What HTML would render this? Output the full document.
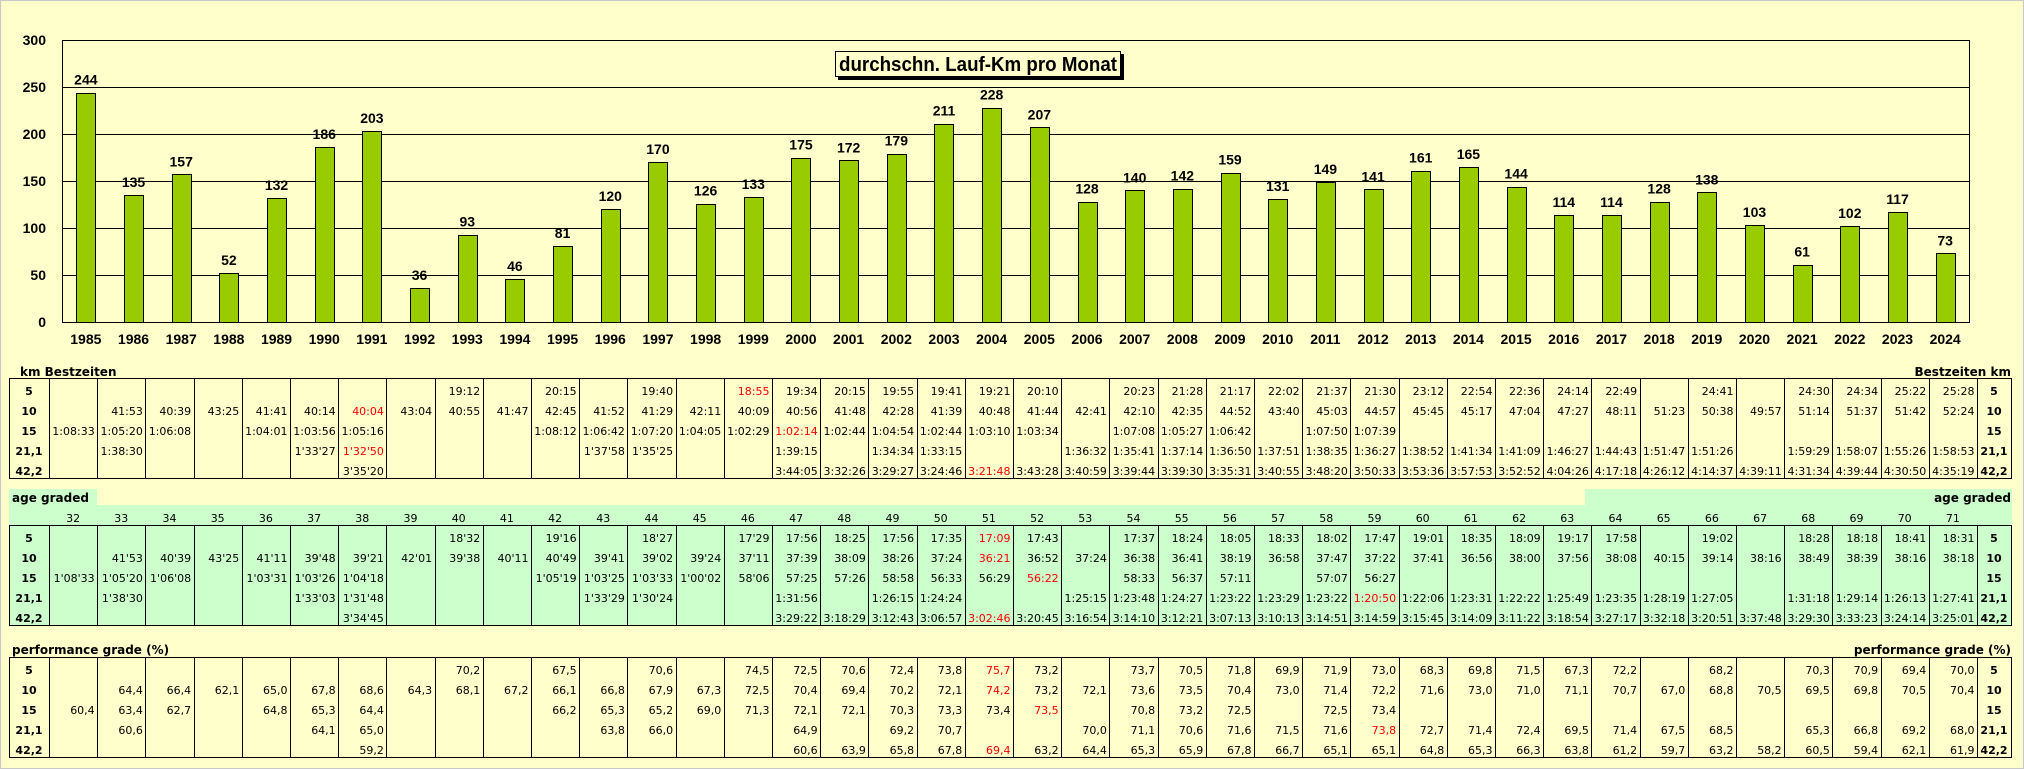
<!DOCTYPE html>
<html><head><meta charset="utf-8"><style>
html,body{margin:0;padding:0;background:#FFFFCC;}
svg{display:block;}
.ax{font-family:"Liberation Sans",sans-serif;font-weight:bold;font-size:14px;fill:#000;}
.tb{font-family:"DejaVu Sans","Liberation Sans",sans-serif;font-size:11px;fill:#000;}
.tbb{font-family:"DejaVu Sans","Liberation Sans",sans-serif;font-size:11px;font-weight:bold;fill:#000;}
.lbl{font-family:"DejaVu Sans","Liberation Sans",sans-serif;font-size:12px;font-weight:bold;fill:#000;}
</style></head><body>
<svg id="root" width="2024" height="769" xmlns="http://www.w3.org/2000/svg"></svg>
<script>
const years=[1985,1986,1987,1988,1989,1990,1991,1992,1993,1994,1995,1996,1997,1998,1999,2000,2001,2002,2003,2004,2005,2006,2007,2008,2009,2010,2011,2012,2013,2014,2015,2016,2017,2018,2019,2020,2021,2022,2023,2024];
const kmPerMonth=[244,135,157,52,132,186,203,36,93,46,81,120,170,126,133,175,172,179,211,228,207,128,140,142,159,131,149,141,161,165,144,114,114,128,138,103,61,102,117,73];
const yTicks=[0,50,100,150,200,250,300];
const distances=["5","10","15","21,1","42,2"];
const ages=[32,33,34,35,36,37,38,39,40,41,42,43,44,45,46,47,48,49,50,51,52,53,54,55,56,57,58,59,60,61,62,63,64,65,66,67,68,69,70,71];
// each column: [5,10,15,21.1,42.2]; "*" prefix = red (record)
const bestTimes=[
["","","1:08:33","",""],["","41:53","1:05:20","1:38:30",""],["","40:39","1:06:08","",""],["","43:25","","",""],
["","41:41","1:04:01","",""],["","40:14","1:03:56","1'33'27",""],["","*40:04","1:05:16","*1'32'50","3'35'20"],["","43:04","","",""],
["19:12","40:55","","",""],["","41:47","","",""],["20:15","42:45","1:08:12","",""],["","41:52","1:06:42","1'37'58",""],
["19:40","41:29","1:07:20","1'35'25",""],["","42:11","1:04:05","",""],["*18:55","40:09","1:02:29","",""],
["19:34","40:56","*1:02:14","1:39:15","3:44:05"],["20:15","41:48","1:02:44","","3:32:26"],["19:55","42:28","1:04:54","1:34:34","3:29:27"],
["19:41","41:39","1:02:44","1:33:15","3:24:46"],["19:21","40:48","1:03:10","","*3:21:48"],["20:10","41:44","1:03:34","","3:43:28"],
["","42:41","","1:36:32","3:40:59"],["20:23","42:10","1:07:08","1:35:41","3:39:44"],["21:28","42:35","1:05:27","1:37:14","3:39:30"],
["21:17","44:52","1:06:42","1:36:50","3:35:31"],["22:02","43:40","","1:37:51","3:40:55"],["21:37","45:03","1:07:50","1:38:35","3:48:20"],
["21:30","44:57","1:07:39","1:36:27","3:50:33"],["23:12","45:45","","1:38:52","3:53:36"],["22:54","45:17","","1:41:34","3:57:53"],
["22:36","47:04","","1:41:09","3:52:52"],["24:14","47:27","","1:46:27","4:04:26"],["22:49","48:11","","1:44:43","4:17:18"],
["","51:23","","1:51:47","4:26:12"],["24:41","50:38","","1:51:26","4:14:37"],["","49:57","","","4:39:11"],
["24:30","51:14","","1:59:29","4:31:34"],["24:34","51:37","","1:58:07","4:39:44"],["25:22","51:42","","1:55:26","4:30:50"],
["25:28","52:24","","1:58:53","4:35:19"]];
const ageGraded=[
["","","1'08'33","",""],["","41'53","1'05'20","1'38'30",""],["","40'39","1'06'08","",""],["","43'25","","",""],
["","41'11","1'03'31","",""],["","39'48","1'03'26","1'33'03",""],["","39'21","1'04'18","1'31'48","3'34'45"],["","42'01","","",""],
["18'32","39'38","","",""],["","40'11","","",""],["19'16","40'49","1'05'19","",""],["","39'41","1'03'25","1'33'29",""],
["18'27","39'02","1'03'33","1'30'24",""],["","39'24","1'00'02","",""],["17'29","37'11","58'06","",""],
["17:56","37:39","57:25","1:31:56","3:29:22"],["18:25","38:09","57:26","","3:18:29"],["17:56","38:26","58:58","1:26:15","3:12:43"],
["17:35","37:24","56:33","1:24:24","3:06:57"],["*17:09","*36:21","56:29","","*3:02:46"],["17:43","36:52","*56:22","","3:20:45"],
["","37:24","","1:25:15","3:16:54"],["17:37","36:38","58:33","1:23:48","3:14:10"],["18:24","36:41","56:37","1:24:27","3:12:21"],
["18:05","38:19","57:11","1:23:22","3:07:13"],["18:33","36:58","","1:23:29","3:10:13"],["18:02","37:47","57:07","1:23:22","3:14:51"],
["17:47","37:22","56:27","*1:20:50","3:14:59"],["19:01","37:41","","1:22:06","3:15:45"],["18:35","36:56","","1:23:31","3:14:09"],
["18:09","38:00","","1:22:22","3:11:22"],["19:17","37:56","","1:25:49","3:18:54"],["17:58","38:08","","1:23:35","3:27:17"],
["","40:15","","1:28:19","3:32:18"],["19:02","39:14","","1:27:05","3:20:51"],["","38:16","","","3:37:48"],
["18:28","38:49","","1:31:18","3:29:30"],["18:18","38:39","","1:29:14","3:33:23"],["18:41","38:16","","1:26:13","3:24:14"],
["18:31","38:18","","1:27:41","3:25:01"]];
const perfGrade=[
["","","60,4","",""],["","64,4","63,4","60,6",""],["","66,4","62,7","",""],["","62,1","","",""],
["","65,0","64,8","",""],["","67,8","65,3","64,1",""],["","68,6","64,4","65,0","59,2"],["","64,3","","",""],
["70,2","68,1","","",""],["","67,2","","",""],["67,5","66,1","66,2","",""],["","66,8","65,3","63,8",""],
["70,6","67,9","65,2","66,0",""],["","67,3","69,0","",""],["74,5","72,5","71,3","",""],
["72,5","70,4","72,1","64,9","60,6"],["70,6","69,4","72,1","","63,9"],["72,4","70,2","70,3","69,2","65,8"],
["73,8","72,1","73,3","70,7","67,8"],["*75,7","*74,2","73,4","","*69,4"],["73,2","73,2","*73,5","","63,2"],
["","72,1","","70,0","64,4"],["73,7","73,6","70,8","71,1","65,3"],["70,5","73,5","73,2","70,6","65,9"],
["71,8","70,4","72,5","71,6","67,8"],["69,9","73,0","","71,5","66,7"],["71,9","71,4","72,5","71,6","65,1"],
["73,0","72,2","73,4","*73,8","65,1"],["68,3","71,6","","72,7","64,8"],["69,8","73,0","","71,4","65,3"],
["71,5","71,0","","72,4","66,3"],["67,3","71,1","","69,5","63,8"],["72,2","70,7","","71,4","61,2"],
["","67,0","","67,5","59,7"],["68,2","68,8","","68,5","63,2"],["","70,5","","","58,2"],
["70,3","69,5","","65,3","60,5"],["70,9","69,8","","66,8","59,4"],["69,4","70,5","","69,2","62,1"],
["70,0","70,4","","68,0","61,9"]];

const NS="http://www.w3.org/2000/svg";
const root=document.getElementById('root');
function mk(tag,attrs,parent,txt){const e=document.createElementNS(NS,tag);for(const k in attrs)e.setAttribute(k,attrs[k]);if(txt!==undefined)e.textContent=txt;(parent||root).appendChild(e);return e;}

// page border
let pb=mk('rect',{x:0.5,y:0.5,width:2023,height:768,fill:'#FFFFCC',stroke:'#c8c8c8'});



// ---- chart ----
const PL=62,PR=1969,PT=40,PB=322,YMAX=300;
const catW=(PR-PL)/years.length;
const yS=v=>PB-(v/YMAX)*(PB-PT);
const xC=i=>PL+catW*(i+0.5);
const chart=mk('g',{});


yTicks.forEach(t=>{
  const ln=mk('line',{x1:PL,x2:PR,y1:yS(t)+0.5,y2:yS(t)+0.5,stroke:'#000','stroke-width':1},chart);
  
  
  const tx=mk('text',{x:46,y:yS(t)+5,'text-anchor':'end',class:'ax'},chart,String(t));
  
  
});
let la=mk('line',{x1:PL+0.5,x2:PL+0.5,y1:PT,y2:PB+1,stroke:'#000'},chart);


let ra=mk('line',{x1:PR+0.5,x2:PR+0.5,y1:PT,y2:PB+1,stroke:'#000'},chart);


kmPerMonth.forEach((v,i)=>{
  const b=mk('rect',{x:Math.round(xC(i)-9.5)+0.5,y:Math.round(yS(v))+0.5,width:19,height:PB-Math.round(yS(v)),fill:'#99CC00',stroke:'#000','stroke-width':1},chart);
  
  
  const vl=mk('text',{x:xC(i),y:yS(v)-8,'text-anchor':'middle',class:'ax'},chart,String(v));
  
  
  const yl=mk('text',{x:xC(i),y:344,'text-anchor':'middle',class:'ax'},chart,String(years[i]));
  
  
});
// title
const tg=mk('g',{},chart);


mk('rect',{x:838,y:54,width:286,height:26,fill:'#000'},tg);
mk('rect',{x:835.5,y:51.5,width:285,height:25,fill:'#FFFFCC',stroke:'#000','stroke-width':1},tg);
mk('text',{x:978,y:71,'text-anchor':'middle','font-family':'Liberation Sans, sans-serif','font-weight':'bold','font-size':'20',textLength:278,lengthAdjust:'spacingAndGlyphs'},tg,'durchschn. Lauf-Km pro Monat');

// ---- tables ----
const TL=9,C0=49,CW=48.2,CE=C0+CW*40,TR=2012;
function table(name,top,data,bg){
  const g=mk('g',{});
  
  
  if(bg) mk('rect',{x:TL,y:top,width:TR-TL,height:100,fill:bg},g);
  mk('rect',{x:TL+0.5,y:top+0.5,width:TR-TL-1,height:100,fill:'none',stroke:'#000'},g);
  for(let k=0;k<=40;k++){const x=Math.round(C0+CW*k)+0.5;mk('line',{x1:x,x2:x,y1:top,y2:top+100,stroke:'#000'},g);}
  distances.forEach((d,r)=>{
    const l=mk('text',{x:29,y:top+17+20*r,'text-anchor':'middle',class:'tbb'},g,d);
    
    
    const l2=mk('text',{x:1994,y:top+17+20*r,'text-anchor':'middle',class:'tbb'},g,d);
    
    
  });
  data.forEach((col,c)=>{col.forEach((s,r)=>{
    if(!s)return;const red=s[0]==='*';const t=red?s.slice(1):s;
    const tx=mk('text',{x:C0+CW*(c+1)-2.5,y:top+17+20*r,'text-anchor':'end',class:'tb',fill:red?'#FF0000':'#000'},g,t);
    if(red) tx.setAttribute('style','fill:#FF0000');
    
    
  });});
  return g;
}
function label(txt,x,y,anchor){const t=mk('text',{x:x,y:y,'text-anchor':anchor,class:'lbl'},root,txt);return t;}
let l1=label('km Bestzeiten',20,376,'start');


let l1r=label('Bestzeiten km',2011,376,'end');


table('best-times-table',378,bestTimes,null);

// age graded header
let ag1=mk('rect',{x:TL,y:489,width:88,height:17,fill:'#CCFFCC'});


let ag2=mk('rect',{x:1585,y:489,width:TR-1585,height:17,fill:'#CCFFCC'});


let ag3=mk('rect',{x:TL,y:505,width:TR-TL,height:21,fill:'#CCFFCC'});


let l2=label('age graded',12,502,'start');


let l2r=label('age graded',2011,502,'end');


ages.forEach((a,i)=>{
  const t=mk('text',{x:C0+CW*(i+0.5),y:522,'text-anchor':'middle',class:'tb'},root,String(a));
  
  
});
table('age-graded-table',525,ageGraded,'#CCFFCC');

let l3=label('performance grade (%)',12,654,'start');


let l3r=label('performance grade (%)',2011,654,'end');


table('performance-grade-table',657,perfGrade,null);
</script>
</body></html>
